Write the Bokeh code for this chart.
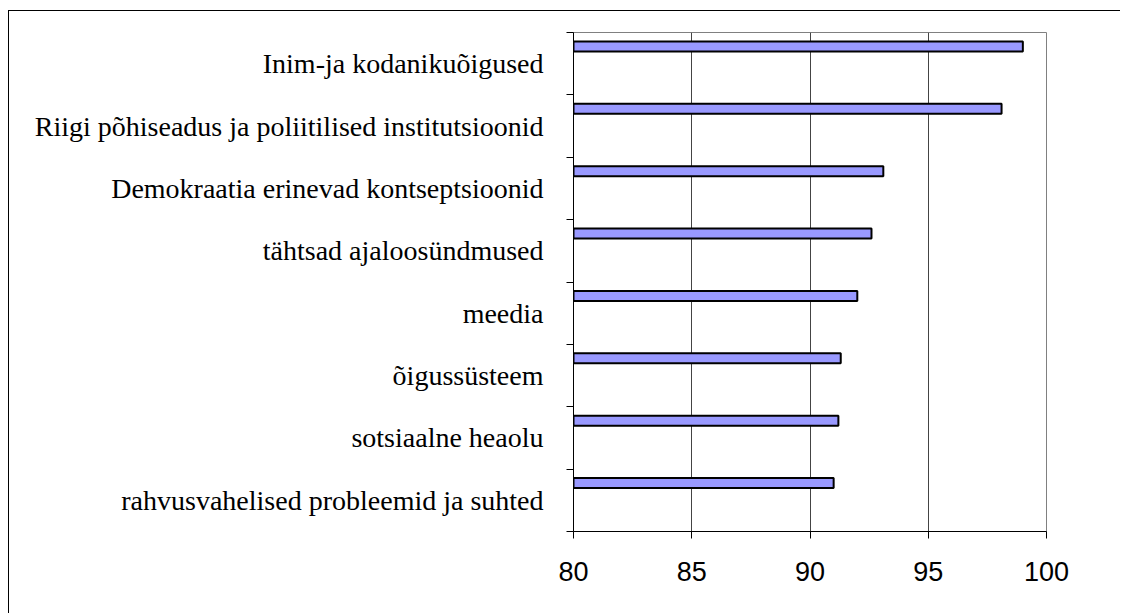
from bokeh.plotting import figure
from bokeh.models import Range1d, FixedTicker, ColumnDataSource
from bokeh.embed import file_html
from bokeh.resources import INLINE

categories = [
    "Inim-ja kodanikuõigused",
    "Riigi põhiseadus ja poliitilised institutsioonid",
    "Demokraatia erinevad kontseptsioonid",
    "tähtsad ajaloosündmused",
    "meedia",
    "õigussüsteem",
    "sotsiaalne heaolu",
    "rahvusvahelised probleemid ja suhted",
]
values = [99.0, 98.1, 93.1, 92.6, 92.0, 91.3, 91.2, 91.0]
x_ticks = [80, 85, 90, 95, 100]

n = len(categories)
centers = [n - i - 0.5 for i in range(n)]
bar_pos = [c + 0.277 for c in centers]

src = ColumnDataSource(dict(y=bar_pos, right=values, left=[x_ticks[0]] * n))

p = figure(width=1112, height=603, output_backend="svg", toolbar_location=None,
           x_range=Range1d(x_ticks[0], x_ticks[-1]), y_range=Range1d(0, n),
           min_border_left=564, min_border_right=75, min_border_top=21,
           min_border_bottom=83)
p.styles = {"border-left": "1px solid black", "border-top": "1px solid black",
            "margin-left": "8px", "margin-top": "10px"}
p.outline_line_color = "#808080"
p.outline_line_width = 1

p.hbar(y="y", left="left", right="right", height=0.16, source=src,
       fill_color="#9999FF", line_color="black", line_width=2)

p.xaxis.ticker = FixedTicker(ticks=x_ticks)
p.xgrid.ticker = FixedTicker(ticks=x_ticks[1:])
p.xgrid.grid_line_color = "#444444"
p.xgrid.grid_line_width = 1
p.ygrid.grid_line_color = None

p.xaxis.axis_line_color = "black"
p.xaxis.major_tick_out = 7
p.xaxis.major_tick_in = 0
p.xaxis.minor_tick_line_color = None
p.xaxis.major_label_text_font = "Liberation Sans"
p.xaxis.major_label_text_font_size = "27px"
p.xaxis.major_label_text_color = "black"
p.xaxis.major_label_standoff = 23

p.yaxis.ticker = FixedTicker(ticks=centers, minor_ticks=list(range(n + 1)))
p.yaxis.major_label_overrides = {c: lab for c, lab in zip(centers, categories)}
p.yaxis.major_tick_line_color = None
p.yaxis.minor_tick_out = 7
p.yaxis.minor_tick_in = 0
p.yaxis.minor_tick_line_color = "black"
p.yaxis.axis_line_color = "black"
p.yaxis.major_label_text_font = "Liberation Serif"
p.yaxis.major_label_text_font_size = "28px"
p.yaxis.major_label_text_color = "black"
p.yaxis.major_label_standoff = 23

open("out.html", "w").write(file_html(p, INLINE))
